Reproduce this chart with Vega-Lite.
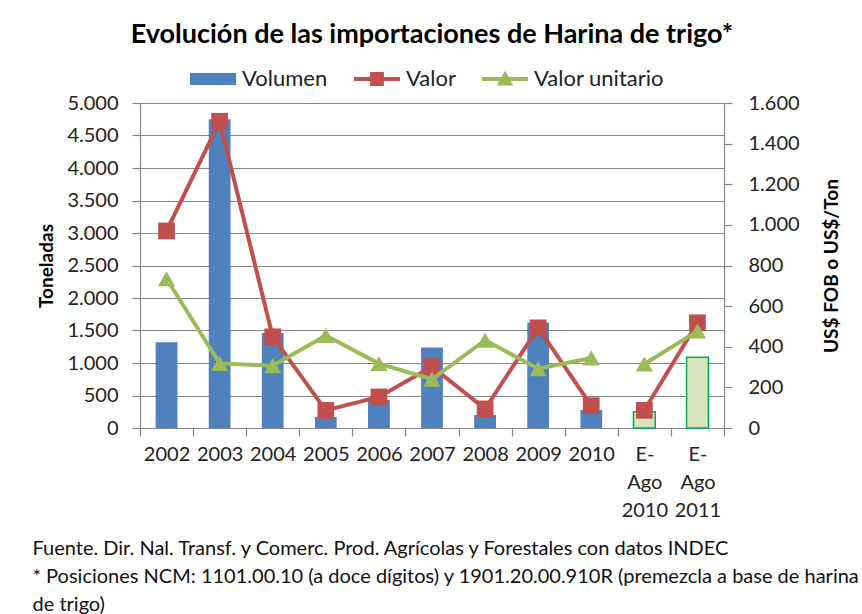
{
  "$schema": "https://vega.github.io/schema/vega-lite/v6.json",
  "width": 584,
  "height": 325,
  "autosize": "none",
  "padding": {"left": 140, "top": 103, "right": 138, "bottom": 186},
  "background": "white",
  "config": {
    "font": "Lato",
    "view": {"stroke": null},
    "axis": {
      "labelFont": "Lato",
      "labelFontSize": 20,
      "labelColor": "#222222",
      "titleFont": "Lato",
      "titleFontSize": 19,
      "titleFontWeight": "bold",
      "titleColor": "#000000",
      "domainColor": "#868686",
      "tickColor": "#868686",
      "gridColor": "#868686",
      "domainWidth": 1.2,
      "tickWidth": 1.2
    }
  },
  "title": {
    "text": "Evolución de las importaciones de Harina de trigo*",
    "font": "Lato",
    "fontSize": 27,
    "fontWeight": "bold",
    "color": "#000000",
    "anchor": "middle",
    "offset": 7
  },
  "data": {
    "values": [
      {"cat": "2002", "Volumen": 1320, "Valor": 970, "Valor unitario": 735, "tramo": 1, "est": false},
      {"cat": "2003", "Volumen": 4750, "Valor": 1510, "Valor unitario": 318, "tramo": 1, "est": false},
      {"cat": "2004", "Volumen": 1460, "Valor": 449, "Valor unitario": 307, "tramo": 1, "est": false},
      {"cat": "2005", "Volumen": 170, "Valor": 87, "Valor unitario": 455, "tramo": 1, "est": false},
      {"cat": "2006", "Volumen": 430, "Valor": 153, "Valor unitario": 317, "tramo": 1, "est": false},
      {"cat": "2007", "Volumen": 1240, "Valor": 302, "Valor unitario": 240, "tramo": 1, "est": false},
      {"cat": "2008", "Volumen": 200, "Valor": 94, "Valor unitario": 432, "tramo": 1, "est": false},
      {"cat": "2009", "Volumen": 1625, "Valor": 493, "Valor unitario": 292, "tramo": 1, "est": false},
      {"cat": "2010", "Volumen": 277, "Valor": 110, "Valor unitario": 345, "tramo": 1, "est": false},
      {"cat": "E-Ago 2010", "Volumen": 250, "Valor": 87, "Valor unitario": 315, "tramo": 2, "est": true},
      {"cat": "E-Ago 2011", "Volumen": 1088, "Valor": 518, "Valor unitario": 477, "tramo": 2, "est": true}
    ]
  },
  "encoding": {
    "x": {
      "field": "cat",
      "type": "nominal",
      "sort": null,
      "scale": {"paddingInner": 0, "paddingOuter": 0},
      "axis": {
        "labelAngle": 0,
        "tickBand": "extent",
        "tickSize": 8,
        "labelPadding": 8,
        "labelLineHeight": 28,
        "labelExpr": "indexof(datum.label, 'E-Ago') == 0 ? ['E-', 'Ago', slice(datum.label, 6)] : datum.label",
        "title": [
          "Fuente. Dir. Nal. Transf. y Comerc. Prod.  Agrícolas y Forestales con datos INDEC",
          "* Posiciones NCM:  1101.00.10 (a doce dígitos) y 1901.20.00.910R (premezcla a base de harina",
          "de trigo)"
        ],
        "titleFontSize": 20,
        "titleFontWeight": "normal",
        "titleColor": "#111111",
        "titleAnchor": "start",
        "titleAlign": "left",
        "titleBaseline": "top",
        "titleLineHeight": 28,
        "titleX": -108,
        "titleY": 110
      }
    }
  },
  "layer": [
    {
      "mark": {"type": "bar", "width": {"band": 0.41}, "strokeWidth": 1.5},
      "encoding": {
        "y": {
          "field": "Volumen",
          "type": "quantitative",
          "scale": {"domain": [0, 5000]},
          "axis": {
            "orient": "left",
            "title": "Toneladas",
            "values": [0, 500, 1000, 1500, 2000, 2500, 3000, 3500, 4000, 4500, 5000],
            "labelExpr": "replace(format(datum.value, ','), ',', '.')",
            "grid": true,
            "tickSize": 8,
            "labelPadding": 14,
            "titlePadding": 10
          }
        },
        "fill": {"condition": {"test": "datum.est", "value": "#d7e4bd"}, "value": "#4f81bd"},
        "stroke": {"condition": {"test": "datum.est", "value": "#00b050"}, "value": "transparent"}
      }
    },
    {
      "transform": [{"fold": ["Valor", "Valor unitario"], "as": ["serie", "usd"]}],
      "encoding": {
        "y": {
          "field": "usd",
          "type": "quantitative",
          "scale": {"domain": [0, 1600]},
          "axis": {
            "orient": "right",
            "title": "US$ FOB o US$/Ton",
            "titleAngle": 270,
            "values": [0, 200, 400, 600, 800, 1000, 1200, 1400, 1600],
            "labelExpr": "replace(format(datum.value, ','), ',', '.')",
            "grid": false,
            "tickSize": 8,
            "labelPadding": 16,
            "titlePadding": 42
          }
        }
      },
      "layer": [
        {
          "transform": [{"filter": "datum.serie == 'Valor'"}],
          "mark": {"type": "line", "color": "#c0504d", "strokeWidth": 4},
          "encoding": {"detail": {"field": "tramo", "type": "nominal"}}
        },
        {
          "transform": [{"filter": "datum.serie == 'Valor'"}],
          "mark": {"type": "point", "shape": "square", "filled": true, "color": "#c0504d", "size": 280, "opacity": 1}
        },
        {
          "transform": [{"filter": "datum.serie == 'Valor unitario'"}],
          "mark": {"type": "line", "color": "#9bbb59", "strokeWidth": 4},
          "encoding": {"detail": {"field": "tramo", "type": "nominal"}}
        },
        {
          "transform": [{"filter": "datum.serie == 'Valor unitario'"}],
          "mark": {"type": "point", "shape": "triangle-up", "filled": true, "color": "#9bbb59", "size": 300, "opacity": 1}
        },
        {
          "transform": [{"filter": "false"}],
          "mark": {"type": "point", "filled": true, "opacity": 1},
          "encoding": {
            "color": {
              "field": "serie",
              "type": "nominal",
              "scale": {"domain": ["Volumen", "Valor", "Valor unitario"], "range": ["#4f81bd", "#c0504d", "#9bbb59"]},
              "legend": {
                "orient": "none",
                "legendX": 50,
                "legendY": -47,
                "direction": "horizontal",
                "title": null,
                "symbolSize": 2116,
                "symbolStrokeWidth": 0,
                "symbolOpacity": 1,
                "labelFontSize": 22,
                "labelFont": "Lato",
                "labelColor": "#222222",
                "labelOffset": 6,
                "columnPadding": 26
              }
            },
            "shape": {
              "field": "serie",
              "type": "nominal",
              "scale": {
                "domain": ["Volumen", "Valor", "Valor unitario"],
                "range": [
                  "M-1,-0.26H1V0.26H-1Z",
                  "M-1,-0.09H1V0.09H-1Z M-0.3,-0.3H0.3V0.3H-0.3Z",
                  "M-1,-0.09H1V0.09H-1Z M0,-0.36L0.36,0.28H-0.36Z"
                ]
              },
              "legend": {
                "orient": "none",
                "legendX": 50,
                "legendY": -47,
                "direction": "horizontal",
                "title": null,
                "symbolSize": 2116,
                "symbolStrokeWidth": 0,
                "symbolOpacity": 1,
                "labelFontSize": 22,
                "labelFont": "Lato",
                "labelColor": "#222222",
                "labelOffset": 6,
                "columnPadding": 26
              }
            }
          }
        }
      ]
    }
  ],
  "resolve": {"scale": {"y": "independent"}}
}
